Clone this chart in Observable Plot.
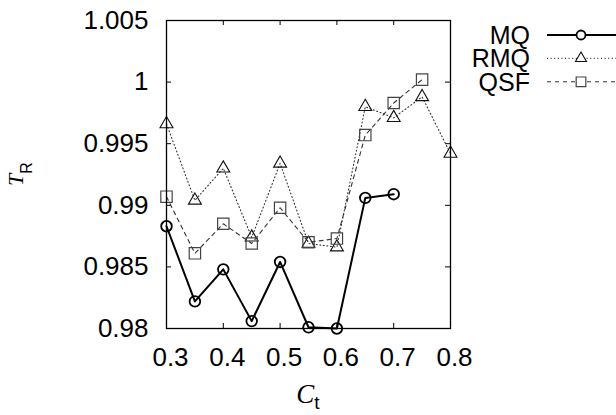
<!DOCTYPE html>
<html><head><meta charset="utf-8">
<script src="https://cdn.jsdelivr.net/npm/d3@7"></script>
<script src="https://cdn.jsdelivr.net/npm/@observablehq/plot@0.6"></script>
<style>
html,body{margin:0;padding:0;background:#fff;}
#wrap{position:relative;width:616px;height:415px;overflow:hidden;}
#wrap svg{position:absolute;left:0;top:0;}
</style></head><body><div id="wrap"></div>
<script>
// Data
const ctMQ  = [0.3, 0.35, 0.4, 0.45, 0.5, 0.55, 0.6, 0.65, 0.7];
const mq    = [0.9883, 0.9822, 0.9848, 0.9806, 0.9854, 0.9801, 0.9800, 0.9906, 0.9909];
const ctRMQ = [0.3, 0.35, 0.4, 0.45, 0.5, 0.55, 0.6, 0.65, 0.7, 0.75, 0.8];
const rmq   = [0.9966, 0.9904, 0.9930, 0.9874, 0.9934, 0.9869, 0.9866, 0.9980, 0.9971, 0.9988, 0.9942];
const ctQSF = [0.3, 0.35, 0.4, 0.45, 0.5, 0.55, 0.6, 0.65, 0.7, 0.75];
const qsf   = [0.9907, 0.9861, 0.9885, 0.9869, 0.9898, 0.9870, 0.9873, 0.9957, 0.9983, 1.0002];
const xTicks = [0.3, 0.4, 0.5, 0.6, 0.7, 0.8];
const yTicks = [0.98, 0.985, 0.99, 0.995, 1, 1.005];
const seriesNames = ["MQ", "RMQ", "QSF"];
const xLabel = ["C", "t"];
const yLabel = ["T", "R"];

const toRows = (xs, ys) => xs.map((x, i) => ({x, y: ys[i]}));
const dMQ = toRows(ctMQ, mq), dRMQ = toRows(ctRMQ, rmq), dQSF = toRows(ctQSF, qsf);

const W = 616, H = 415, mL = 166, mR = 166, mT = 20, mB = 87;
const pw = W - mL - mR, ph = H - mT - mB;
const sans = "'Liberation Sans', Arial, Helvetica, sans-serif";
const serif = "'Liberation Serif', 'Times New Roman', serif";
const tick = 5;

const styles = {
  MQ:  {stroke: "#000", strokeWidth: 2, dash: null, symbol: "circle", r: 5.3, mStroke: "#000", mWidth: 1.8},
  RMQ: {stroke: "#333", strokeWidth: 1.1, dash: "1,2.6", symbol: "triangle", r: 4.8, mStroke: "#111", mWidth: 1.1},
  QSF: {stroke: "#333", strokeWidth: 1.1, dash: "4,4", symbol: "square", r: 6.4, mStroke: "#444", mWidth: 1.2}
};

const seriesMarks = (data, s) => [
  Plot.line(data, {x: "x", y: "y", stroke: s.stroke, strokeWidth: s.strokeWidth, strokeDasharray: s.dash}),
  Plot.dot(data, {x: "x", y: "y", symbol: s.symbol, r: s.r, stroke: s.mStroke, strokeWidth: s.mWidth, fill: "none"})
];

const plot = Plot.plot({
  width: W, height: H,
  marginLeft: mL, marginRight: mR, marginTop: mT, marginBottom: mB,
  style: {fontFamily: sans, fontSize: "26px", background: "white", color: "black", overflow: "visible"},
  x: {domain: [0.3, 0.8]},
  y: {domain: [0.98, 1.005]},
  marks: [
    Plot.axisX({ticks: xTicks, tickSize: 0, tickPadding: 19, dx: 4, tickFormat: d => String(d), label: null, fontSize: 26}),
    Plot.axisY({ticks: yTicks, tickSize: 0, tickPadding: 18, tickFormat: d => String(d), label: null, fontSize: 26}),
    // inward ticks on all four sides
    Plot.ruleX(xTicks, {x: d => d, insetTop: ph - tick, stroke: "#000"}),
    Plot.ruleX(xTicks, {x: d => d, insetBottom: ph - tick, stroke: "#000"}),
    Plot.ruleY(yTicks, {y: d => d, insetRight: pw - tick, stroke: "#000"}),
    Plot.ruleY(yTicks, {y: d => d, insetLeft: pw - tick, stroke: "#000"}),
    ...seriesMarks(dRMQ, styles.RMQ),
    ...seriesMarks(dQSF, styles.QSF),
    ...seriesMarks(dMQ, styles.MQ),
    Plot.frame({stroke: "#000", strokeWidth: 1.3})
  ]
});

document.getElementById("wrap").appendChild(plot);

// axis titles with subscripts
const svg = d3.select(plot);
const xr = plot.scale("x").range, yr = plot.scale("y").range;
const cx = (xr[0] + xr[1]) / 2, cy = (yr[0] + yr[1]) / 2;
const xt = svg.append("text").attr("x", cx).attr("y", 403).attr("text-anchor", "middle").attr("fill", "#000");
xt.append("tspan").attr("font-family", serif).attr("font-style", "italic").attr("font-size", 27).text(xLabel[0]);
xt.append("tspan").attr("font-family", sans).attr("font-size", 19).attr("dy", 6).text(xLabel[1]);
const yt = svg.append("text").attr("transform", `translate(23,${cy}) rotate(-90)`).attr("text-anchor", "middle").attr("fill", "#000");
yt.append("tspan").attr("font-family", serif).attr("font-style", "italic").attr("font-size", 22).text(yLabel[0]);
yt.append("tspan").attr("font-family", sans).attr("font-size", 16).attr("dy", 9).text(yLabel[1]);

// legend (right side)
const leg = d3.select("#wrap").append("svg").attr("width", W).attr("height", H).style("pointer-events", "none");
const symMap = {circle: d3.symbolCircle, triangle: d3.symbolTriangle, square: d3.symbolSquare};
seriesNames.forEach((name, i) => {
  const s = styles[name];
  const y = 35 + i * 23.4;
  leg.append("text").attr("x", 530).attr("y", y).attr("dy", "0.35em").attr("text-anchor", "end")
    .attr("font-family", sans).attr("font-size", 25).attr("fill", "#000").text(name);
  leg.append("line").attr("x1", 547).attr("x2", 620).attr("y1", y).attr("y2", y)
    .attr("stroke", s.stroke).attr("stroke-width", s.strokeWidth).attr("stroke-dasharray", s.dash);
  leg.append("path").attr("d", d3.symbol(symMap[s.symbol], Math.PI * (s.r * 0.85) ** 2)())
    .attr("transform", `translate(581,${y})`).attr("fill", "white").attr("stroke", s.mStroke).attr("stroke-width", s.mWidth);
});
</script></body></html>
